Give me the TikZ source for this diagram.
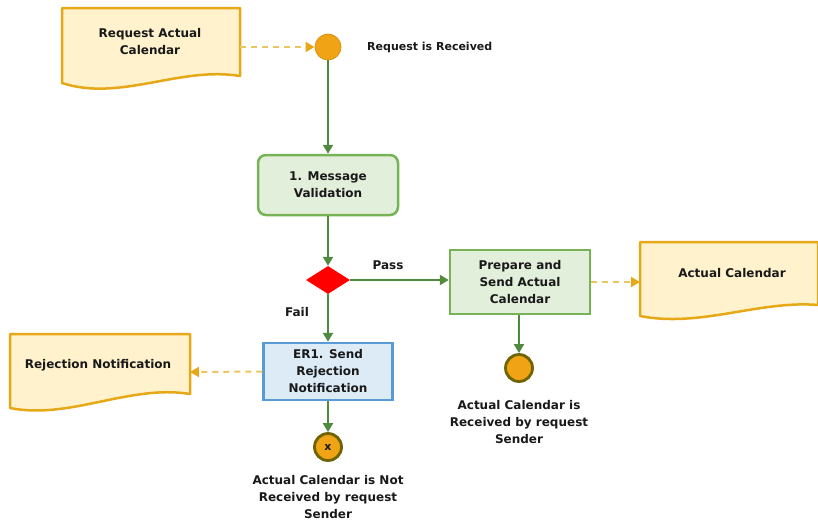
\documentclass[tikz,border=0pt]{standalone}
\usepackage{fontspec}
\setmainfont{DejaVu Sans}
\usetikzlibrary{arrows.meta,shapes.geometric,backgrounds}
\definecolor{flow}{HTML}{4F8A3F}
\definecolor{gbord}{HTML}{77B255}
\definecolor{gfill}{HTML}{E2EFDA}
\definecolor{bbord}{HTML}{5B9BD5}
\definecolor{bfill}{HTML}{DDEBF7}
\definecolor{dbord}{HTML}{E6A817}
\definecolor{dfill}{HTML}{FFF2CC}
\definecolor{dline}{HTML}{EBC55E}
\definecolor{evfill}{HTML}{EFA315}
\definecolor{evbord}{HTML}{6E6400}
\tikzset{
  x=1pt,y=-1pt,
  every node/.style={font=\bfseries\fontsize{12}{17}\selectfont, align=center, text=black!90},
  flowline/.style={draw=flow, line width=2pt, -{Triangle[length=9pt,width=10pt]}},
  dashflow/.style={draw=dline, line width=2pt, dash pattern=on 6pt off 5pt, -{Triangle[length=9pt,width=10pt,fill=dbord,color=dbord]}},
  greenbox/.style={draw=gbord, fill=gfill, line width=2.5pt, minimum width=140pt, inner sep=2pt},
  bluebox/.style={draw=bbord, fill=bfill, line width=2.5pt, minimum width=129pt, minimum height=57pt, inner sep=2pt},
  docshape/.style={draw=dbord, fill=dfill, line width=2.5pt, line join=round},
  plain/.style={inner sep=0pt},
  startev/.style={circle, fill=evfill, draw=evfill!90!black, line width=0.8pt, minimum size=26pt, inner sep=0pt},
  endev/.style={circle, fill=evfill, draw=evbord, line width=2.8pt, minimum size=27pt, inner sep=0pt},
  gate/.style={diamond, fill=red, draw=none, minimum width=44pt, minimum height=28pt, inner sep=0pt, aspect=1.6}
}
\begin{document}
\begin{tikzpicture}
\useasboundingbox (0,0) rectangle (818,525);
% documents (text nodes)
\node[plain] (reqdoc) at (150,42) {Request Actual\\Calendar};
\node[plain] (caldoc) at (732,273) {Actual Calendar};
\node[plain] (rejdoc) at (98,365) {Rejection Notification};
\begin{pgfonlayer}{background}
\path[docshape] (62,8) -- (240,8) -- (240,76) .. controls (180,66) and (120,102) .. (62,83) -- cycle;
\path[docshape] (640,242) -- (818,242) -- (818,305) .. controls (760,300) and (700,328) .. (640,316) -- cycle;
\path[docshape] (10,334) -- (190,334) -- (190,394) .. controls (130,384) and (70,420) .. (10,408) -- cycle;
\end{pgfonlayer}
% events
\node[startev] (start) at (328,47) {};
\node[plain, anchor=west, font=\bfseries\fontsize{11}{14}\selectfont] (startlbl) at (367,47) {Request is Received};
% tasks
\node[greenbox, rounded corners=8pt, minimum height=60pt] (valid) at (328,185) {1. Message\\Validation};
\node[gate] (gw) at (328,280) {};
\node[greenbox, minimum height=64pt] (prep) at (520,282) {Prepare and\\Send Actual\\Calendar};
\node[bluebox] (er1) at (328,371.5) {ER1. Send\\Rejection\\Notification};
\node[endev] (endok) at (519,368) {};
\node[endev] (endx) at (328,447) {};
\node[plain, font=\bfseries\fontsize{11}{12}\selectfont] at (endx) {x};
\node[plain] (oklbl) at (519,422) {Actual Calendar is\\Received by request\\Sender};
\node[plain] (xlbl) at (328,497) {Actual Calendar is Not\\Received by request\\Sender};
\node[plain] (pass) at (388,265) {Pass};
\node[plain] (fail) at (297,312) {Fail};
% connectors
\draw[dashflow] (240,47) -- (start);
\draw[flowline] (start) -- (valid);
\draw[flowline] (valid) -- (gw);
\draw[flowline] (gw.east) -- (gw.east -| prep.west);
\draw[flowline] (gw.south) -- (er1.north);
\draw[dashflow] (prep.east) -- (640,282);
\draw[dashflow] (er1.west) -- (190,372);
\draw[flowline] (prep.south -| endok) -- (endok);
\draw[flowline] (er1) -- (endx);
\end{tikzpicture}
\end{document}
